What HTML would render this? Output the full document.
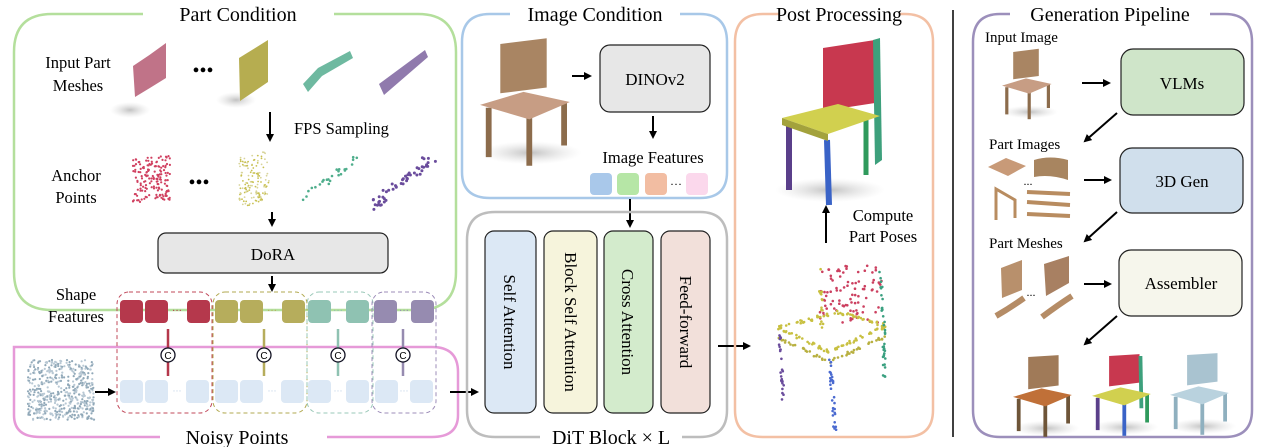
<!DOCTYPE html>
<html><head><meta charset="utf-8"><style>
html,body{margin:0;padding:0;background:#fff;}
svg{display:block;font-family:"Liberation Serif",serif;}
</style></head><body>
<svg width="1261" height="447" viewBox="0 0 1261 447" xmlns="http://www.w3.org/2000/svg">
<defs>
<marker id="ar" markerWidth="8" markerHeight="8" refX="6" refY="4" orient="auto" markerUnits="userSpaceOnUse"><path d="M0,0 L8,4 L0,8 z" fill="#000"/></marker>
<radialGradient id="sh"><stop offset="0" stop-color="#999" stop-opacity=".6"/><stop offset="1" stop-color="#ccc" stop-opacity="0"/></radialGradient>
<g id="chair">
<ellipse cx="35" cy="75" rx="35" ry="8" fill="url(#sh)"/>
<polygon points="14,0 46,-4 46,30 14,34" fill="#a98563"/>
<line x1="6" y1="44" x2="6" y2="78" stroke="#8c6c4c" stroke-width="4"/>
<line x1="58" y1="40" x2="58" y2="70" stroke="#8c6c4c" stroke-width="4"/>
<line x1="34" y1="50" x2="34" y2="84" stroke="#8c6c4c" stroke-width="4"/>
<polygon points="0,42 30,33 62,40 34,52" fill="#c79d84"/>
</g>
</defs>

<!-- Part Condition -->
<path d="M143,14 L52,14 Q14,14 14,52 L14,272 Q14,310 52,310 L418,310 Q456,310 456,272 L456,52 Q456,14 418,14 L334,14" fill="none" stroke="#b4df9c" stroke-width="2.5"/>
<text x="238" y="21" font-size="20" text-anchor="middle">Part Condition</text>
<text x="78" y="68" font-size="16.5" text-anchor="middle">Input Part</text>
<text x="78" y="91" font-size="16.5" text-anchor="middle">Meshes</text>
<ellipse cx="130" cy="110" rx="20" ry="8" fill="url(#sh)"/>
<path d="M133,66 Q150,55 166,43 L166,78 Q150,88 135,97 z" fill="#c07388"/>
<text x="203" y="77" font-size="20" text-anchor="middle">•••</text>
<ellipse cx="236" cy="100" rx="20" ry="8" fill="url(#sh)"/>
<polygon points="239,58 268,40 268,82 240,101" fill="#b6ad50"/>
<path d="M303,84 L318,68 L350,51 L353,58 L322,76 L308,92 z" fill="#6eb9a0"/>
<path d="M379,84 L425,50 L428,57 L384,95 z" fill="#907aad"/>
<line x1="270" y1="112" x2="270" y2="140" stroke="#000" stroke-width="2" marker-end="url(#ar)"/>
<text x="294" y="134" font-size="16.5">FPS Sampling</text>
<text x="76" y="181" font-size="16.5" text-anchor="middle">Anchor</text>
<text x="76" y="203" font-size="16.5" text-anchor="middle">Points</text>
<text x="199" y="189" font-size="20" text-anchor="middle">•••</text>
<g id="clouds"></g>
<line x1="272" y1="212" x2="272" y2="225" stroke="#000" stroke-width="2" marker-end="url(#ar)"/>
<rect x="158" y="233" width="230" height="40" rx="8" fill="#e7e7e7" stroke="#222" stroke-width="1.2"/>
<text x="273" y="260" font-size="17" text-anchor="middle">DoRA</text>
<line x1="272" y1="276" x2="272" y2="290" stroke="#000" stroke-width="2" marker-end="url(#ar)"/>
<text x="76" y="300" font-size="16.5" text-anchor="middle">Shape</text>
<text x="76" y="322" font-size="16.5" text-anchor="middle">Features</text>

<!-- Noisy Points box -->
<path d="M160,437 L40,437 Q14,437 14,415 L14,347 L432,347 Q458,347 458,372 L458,415 Q458,437 432,437 L327,437" fill="none" stroke="#e69ad8" stroke-width="2.5"/>
<text x="237" y="444" font-size="20" text-anchor="middle">Noisy Points</text>
<g id="noisy"></g>
<line x1="95" y1="392" x2="114" y2="392" stroke="#000" stroke-width="2" marker-end="url(#ar)"/>

<g fill="none" stroke-dasharray="4,3" stroke-width="1">
<rect x="117" y="292" width="95" height="121" rx="12" stroke="#c0485a"/>
<rect x="213" y="292" width="94" height="121" rx="12" stroke="#b2a950"/>
<rect x="307" y="292" width="66" height="121" rx="12" stroke="#9ac8b8"/>
<rect x="372" y="292" width="64" height="121" rx="12" stroke="#9c8cb8"/>
</g>
<g>
<rect x="120" y="300" width="23" height="23" rx="4" fill="#b5384c"/><rect x="145" y="300" width="23" height="23" rx="4" fill="#b5384c"/><rect x="187" y="300" width="23" height="23" rx="4" fill="#b5384c"/>
<text x="177" y="314" font-size="10" fill="#b5384c" text-anchor="middle">···</text>
<rect x="215" y="300" width="23" height="23" rx="4" fill="#b6ad5c"/><rect x="240" y="300" width="23" height="23" rx="4" fill="#b6ad5c"/><rect x="282" y="300" width="23" height="23" rx="4" fill="#b6ad5c"/>
<text x="272" y="314" font-size="10" fill="#b6ad5c" text-anchor="middle">···</text>
<rect x="308" y="300" width="23" height="23" rx="4" fill="#8fc2b2"/><rect x="346" y="300" width="23" height="23" rx="4" fill="#8fc2b2"/>
<text x="338" y="314" font-size="10" fill="#8fc2b2" text-anchor="middle">···</text>
<rect x="374" y="300" width="23" height="23" rx="4" fill="#968bb0"/><rect x="411" y="300" width="23" height="23" rx="4" fill="#968bb0"/>
<text x="404" y="314" font-size="10" fill="#968bb0" text-anchor="middle">···</text>
</g>
<g stroke-width="2.5">
<line x1="168" y1="329" x2="168" y2="376" stroke="#b5384c"/>
<line x1="264" y1="329" x2="264" y2="376" stroke="#b6ad5c"/>
<line x1="338" y1="329" x2="338" y2="376" stroke="#8fc2b2"/>
<line x1="403" y1="329" x2="403" y2="376" stroke="#968bb0"/>
</g>
<g fill="#fff" stroke="#112" stroke-width="1.3">
<circle cx="168" cy="355" r="7"/><circle cx="264" cy="355" r="7"/><circle cx="338" cy="355" r="7"/><circle cx="403" cy="355" r="7"/>
</g>
<g font-size="10" text-anchor="middle" font-family="Liberation Sans,sans-serif">
<text x="168" y="359">C</text><text x="264" y="359">C</text><text x="338" y="359">C</text><text x="403" y="359">C</text>
</g>
<g fill="#dce8f5">
<rect x="120" y="380" width="23" height="23" rx="4"/><rect x="145" y="380" width="23" height="23" rx="4"/><rect x="186" y="380" width="23" height="23" rx="4"/>
<rect x="215" y="380" width="23" height="23" rx="4"/><rect x="240" y="380" width="23" height="23" rx="4"/><rect x="281" y="380" width="23" height="23" rx="4"/>
<rect x="308" y="380" width="23" height="23" rx="4"/><rect x="346" y="380" width="23" height="23" rx="4"/>
<rect x="375" y="380" width="23" height="23" rx="4"/><rect x="410" y="380" width="23" height="23" rx="4"/>
</g>
<g font-size="9" fill="#b8cde4" text-anchor="middle"><text x="177" y="394">···</text><text x="272" y="394">···</text><text x="338" y="394">···</text><text x="404" y="394">···</text></g>
<line x1="450" y1="392" x2="477" y2="392" stroke="#000" stroke-width="2" marker-end="url(#ar)"/>

<!-- Image Condition -->
<path d="M510,14 L490,14 Q462,14 462,42 L462,172 Q462,198 490,198 L700,198 Q727,198 727,172 L727,42 Q727,14 700,14 L680,14" fill="none" stroke="#a8c8e8" stroke-width="2.5"/>
<text x="595" y="21" font-size="20" text-anchor="middle">Image Condition</text>
<use href="#chair" transform="translate(480,44) scale(1.45)"/>
<line x1="572" y1="76" x2="590" y2="76" stroke="#000" stroke-width="2" marker-end="url(#ar)"/>
<rect x="600" y="45" width="110" height="67" rx="10" fill="#e7e7e7" stroke="#222" stroke-width="1.2"/>
<text x="655" y="85" font-size="17" text-anchor="middle">DINOv2</text>
<line x1="653" y1="116" x2="653" y2="137" stroke="#000" stroke-width="2" marker-end="url(#ar)"/>
<text x="653" y="163" font-size="16.5" text-anchor="middle">Image Features</text>
<rect x="590" y="173" width="22" height="22" rx="4" fill="#a9c8ea"/>
<rect x="617" y="173" width="22" height="22" rx="4" fill="#b6e6a6"/>
<rect x="645" y="173" width="22" height="22" rx="4" fill="#f2bda2"/>
<text x="676" y="188" font-size="12" text-anchor="middle">···</text>
<rect x="686" y="173" width="22" height="22" rx="4" fill="#fbd8ec"/>
<line x1="630" y1="199" x2="630" y2="226" stroke="#000" stroke-width="2" marker-end="url(#ar)"/>

<!-- DiT -->
<path d="M540,437 L495,437 Q467,437 467,410 L467,240 Q467,212 495,212 L700,212 Q727,212 727,240 L727,410 Q727,437 700,437 L682,437" fill="none" stroke="#bdbdbd" stroke-width="2.5"/>
<text x="611" y="444" font-size="20" text-anchor="middle">DiT Block × L</text>
<rect x="485" y="231" width="51" height="182" rx="9" fill="#dce8f5" stroke="#222" stroke-width="1.2"/>
<rect x="544" y="231" width="53" height="182" rx="9" fill="#f6f4dc" stroke="#222" stroke-width="1.2"/>
<rect x="604" y="231" width="49" height="182" rx="9" fill="#d3ebcc" stroke="#222" stroke-width="1.2"/>
<rect x="661" y="231" width="49" height="182" rx="9" fill="#f2e0da" stroke="#222" stroke-width="1.2"/>
<g font-size="17" text-anchor="middle">
<text transform="translate(504,322) rotate(90)">Self Attention</text>
<text transform="translate(565,322) rotate(90)">Block Self  Attention</text>
<text transform="translate(622,322) rotate(90)">Cross Attention</text>
<text transform="translate(680,322) rotate(90)">Feed-forward</text>
</g>
<line x1="718" y1="346" x2="749" y2="346" stroke="#000" stroke-width="2" marker-end="url(#ar)"/>

<!-- Post Processing -->
<path d="M780,14 L763,14 Q735,14 735,42 L735,410 Q735,437 763,437 L905,437 Q933,437 933,410 L933,42 Q933,14 905,14 L900,14" fill="none" stroke="#f3c0a4" stroke-width="2.5"/>
<text x="839" y="21" font-size="20" text-anchor="middle">Post Processing</text>
<ellipse cx="830" cy="190" rx="55" ry="12" fill="url(#sh)"/>
<polygon points="823,48 875,40 875,103 823,111" fill="#c8384f"/>
<polygon points="873,40 880,38 882,160 875,165" fill="#3da07c"/>
<line x1="789" y1="125" x2="789" y2="190" stroke="#5a3f8a" stroke-width="6"/>
<line x1="827" y1="140" x2="829" y2="205" stroke="#3a63c7" stroke-width="6"/>
<line x1="866" y1="120" x2="866" y2="175" stroke="#2f9a5c" stroke-width="5"/>
<polygon points="782,118 838,104 880,116 828,134" fill="#d1d04f"/>
<polygon points="782,118 828,134 828,141 782,125" fill="#a3a23c"/>
<line x1="826" y1="243" x2="826" y2="207" stroke="#000" stroke-width="2" marker-end="url(#ar)"/>
<text x="883" y="221" font-size="16.5" text-anchor="middle">Compute</text>
<text x="883" y="242" font-size="16.5" text-anchor="middle">Part Poses</text>
<g id="pcchair"></g>

<line x1="953" y1="10" x2="953" y2="437" stroke="#000" stroke-width="1.5"/>

<!-- Generation Pipeline -->
<path d="M1010,14 L1000,14 Q973,14 973,42 L973,410 Q973,437 1000,437 L1225,437 Q1252,437 1252,410 L1252,42 Q1252,14 1225,14 L1210,14" fill="none" stroke="#9c8fbb" stroke-width="2.5"/>
<text x="1110" y="21" font-size="20" text-anchor="middle">Generation Pipeline</text>
<text x="985" y="42" font-size="15">Input Image</text>
<use href="#chair" transform="translate(1002,52) scale(0.8)"/>
<line x1="1082" y1="83" x2="1109" y2="83" stroke="#000" stroke-width="2" marker-end="url(#ar)"/>
<rect x="1121" y="49" width="123" height="66" rx="12" fill="#cfe5c9" stroke="#222" stroke-width="1.2"/>
<text x="1182" y="89" font-size="17" text-anchor="middle">VLMs</text>
<line x1="1117" y1="113" x2="1085" y2="141" stroke="#000" stroke-width="2" marker-end="url(#ar)"/>
<text x="989" y="149" font-size="15">Part Images</text>
<polygon points="988,167 1006,158 1026,166 1008,176" fill="#c89a78"/>
<path d="M1034,160 Q1050,155 1068,160 L1068,180 Q1050,174 1034,177 z" fill="#a88560"/>
<text x="1028" y="185" font-size="12" text-anchor="middle">...</text>
<path d="M996,220 L996,189 L1015,200 L1015,218" fill="none" stroke="#b88c60" stroke-width="3"/>
<line x1="1027" y1="192" x2="1070" y2="194" stroke="#b88c60" stroke-width="4"/>
<line x1="1027" y1="202" x2="1070" y2="205" stroke="#b88c60" stroke-width="4"/>
<line x1="1027" y1="214" x2="1070" y2="216" stroke="#b88c60" stroke-width="4"/>
<line x1="1084" y1="180" x2="1110" y2="180" stroke="#000" stroke-width="2" marker-end="url(#ar)"/>
<rect x="1120" y="148" width="123" height="65" rx="12" fill="#d0dfec" stroke="#222" stroke-width="1.2"/>
<text x="1182" y="187" font-size="17" text-anchor="middle">3D Gen</text>
<line x1="1117" y1="212" x2="1085" y2="241" stroke="#000" stroke-width="2" marker-end="url(#ar)"/>
<text x="989" y="248" font-size="15">Part Meshes</text>
<polygon points="1001,268 1022,260 1022,290 1002,298" fill="#b8906c"/>
<polygon points="1044,264 1069,256 1069,283 1046,296" fill="#a88062"/>
<text x="1031" y="296" font-size="12" text-anchor="middle">...</text>
<path d="M996,316 Q1010,308 1024,298" stroke="#b58c66" stroke-width="6" fill="none"/>
<path d="M1042,317 Q1058,305 1072,296" stroke="#b58c66" stroke-width="6" fill="none"/>
<line x1="1084" y1="284" x2="1110" y2="284" stroke="#000" stroke-width="2" marker-end="url(#ar)"/>
<rect x="1119" y="250" width="123" height="66" rx="12" fill="#f6f6ec" stroke="#222" stroke-width="1.2"/>
<text x="1181" y="289" font-size="17" text-anchor="middle">Assembler</text>
<line x1="1117" y1="316" x2="1085" y2="344" stroke="#000" stroke-width="2" marker-end="url(#ar)"/>
<g transform="translate(1013,357) scale(0.95)">
<ellipse cx="35" cy="75" rx="35" ry="8" fill="url(#sh)"/>
<polygon points="16,0 48,-2 48,30 16,34" fill="#a07a58"/>
<line x1="6" y1="44" x2="6" y2="78" stroke="#6e5538" stroke-width="4"/><line x1="58" y1="40" x2="58" y2="70" stroke="#6e5538" stroke-width="4"/><line x1="34" y1="50" x2="34" y2="84" stroke="#6e5538" stroke-width="4"/>
<polygon points="0,42 30,33 62,40 34,52" fill="#c07038"/>
</g>
<g transform="translate(1092,356) scale(0.95)">
<ellipse cx="35" cy="75" rx="35" ry="8" fill="url(#sh)"/>
<polygon points="18,0 50,-2 50,28 18,32" fill="#c8384f"/>
<line x1="51" y1="0" x2="52" y2="55" stroke="#3da07c" stroke-width="4"/>
<line x1="6" y1="44" x2="6" y2="78" stroke="#5a3f8a" stroke-width="4"/><line x1="58" y1="40" x2="58" y2="70" stroke="#2f9a5c" stroke-width="4"/><line x1="34" y1="50" x2="34" y2="84" stroke="#3a63c7" stroke-width="4"/>
<polygon points="0,42 30,33 62,40 34,52" fill="#d1d04f"/>
</g>
<g transform="translate(1170,355) scale(0.95)">
<ellipse cx="35" cy="75" rx="35" ry="8" fill="url(#sh)"/>
<polygon points="18,0 50,-2 50,28 18,32" fill="#a9c3d0"/>
<line x1="6" y1="44" x2="6" y2="78" stroke="#8fb0bf" stroke-width="4"/><line x1="58" y1="40" x2="58" y2="70" stroke="#8fb0bf" stroke-width="4"/><line x1="34" y1="50" x2="34" y2="84" stroke="#8fb0bf" stroke-width="4"/>
<polygon points="0,42 30,33 62,40 34,52" fill="#b9d2de"/>
</g>
</svg>
<script>
(function(){
var s=7;function r(){s=(s*16807)%2147483647;return s/2147483647;}
var NS="http://www.w3.org/2000/svg";
function dot(g,x,y,rad,c){var e=document.createElementNS(NS,"circle");e.setAttribute("cx",x.toFixed(1));e.setAttribute("cy",y.toFixed(1));e.setAttribute("r",rad);e.setAttribute("fill",c);g.appendChild(e);}
var c=document.getElementById("clouds");
for(var i=0;i<160;i++){var u=r(),v=r();dot(c,133+u*37,160+v*45-u*10+(u*u*5),1.1,"#d04060");}
for(var i=0;i<140;i++){var u=r(),v=r();dot(c,239+u*30,158+v*50-u*8,0.9,(r()<0.6?"#c8c050":"#d8d49a"));}
for(var i=0;i<25;i++){var t=r();dot(c,304+t*55+(r()-.5)*6,198-t*40+(r()-.5)*8,1.3,"#4fae8c");}
for(var i=0;i<50;i++){var t=r();dot(c,375+t*60+(r()-.5)*8,205-t*50+(r()-.5)*10,1.5,"#6a4c9c");}
var n=document.getElementById("noisy");
for(var i=0;i<500;i++){dot(n,28+r()*66,360+r()*60,1.1,(r()<.5?"#90a8b8":"#b8c8d4"));}
var p=document.getElementById("pcchair");
for(var i=0;i<90;i++){var u=r(),v=r();dot(p,820+u*62,268+v*60-u*6,1.3,"#cc4060");}
function edge(x1,y1,x2,y2,nn,col){for(var i=0;i<nn;i++){var t=r();dot(p,x1+(x2-x1)*t+(r()-.5)*3,y1+(y2-y1)*t+(r()-.5)*3,1.3,col);}}
edge(778,328,838,312,30,"#c8c040");edge(838,312,886,326,30,"#c8c040");edge(778,328,830,352,30,"#c8c040");edge(830,352,886,326,30,"#c8c040");
edge(778,338,830,362,25,"#b8b040");edge(830,362,886,336,25,"#b8b040");
edge(780,335,783,400,25,"#6a4c9c");edge(830,360,835,430,30,"#4a6ad0");edge(884,330,884,380,20,"#3aa080");edge(880,270,884,330,15,"#3aa080");
edge(820,270,822,330,15,"#c8c040");
})();
</script>
</body></html>
